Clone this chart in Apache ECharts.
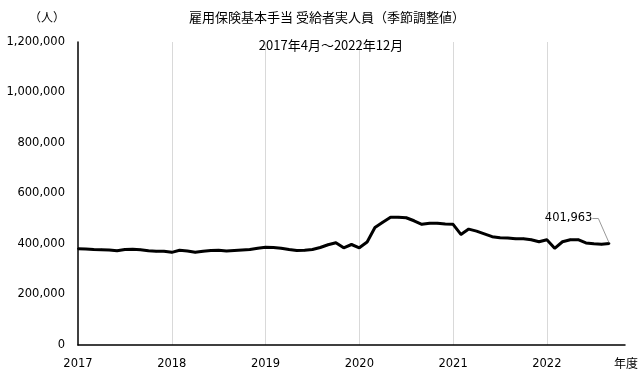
<!DOCTYPE html>
<html>
<head>
<meta charset="utf-8">
<script src="https://cdn.jsdelivr.net/npm/echarts@6/dist/echarts.min.js"></script>
<style>html,body{margin:0;padding:0;background:#fff;}#c{width:644px;height:378px;}</style>
</head>
<body>
<div id="c"></div>
<script>
// Monthly data, April 2017 – December 2022 (seasonally adjusted)
const startYear = 2017, startMonth = 4, monthCount = 69;
const fiscalYearLabels = ['2017', '2018', '2019', '2020', '2021', '2022'];
const recipients = [
  381000, 380000, 378000, 377000, 376000, 373000, 378000, 379000, 377000, 373000, 371000, 371000,
  367000, 375000, 372000, 367000, 371000, 374000, 375000, 372000, 374000, 376000, 378000, 383000,
  387000, 386000, 383000, 378000, 374000, 375000, 378000, 386000, 397000, 405000, 385000, 398000,
  385000, 408000, 465000, 486000, 506000, 506000, 504000, 492000, 478000, 482000, 482000, 479000,
  478000, 438000, 459000, 451000, 440000, 429000, 425000, 424000, 421000, 421000, 417000, 409000,
  417000, 383000, 409000, 417000, 417000, 404000, 401000, 399000, 401963
];
const yTicks = [0, 200000, 400000, 600000, 800000, 1000000, 1200000];

const months = [];
for (let i = 0; i < monthCount + 2; i++) {
  const m = (startMonth - 1 + i) % 12 + 1;
  const y = startYear + Math.floor((startMonth - 1 + i) / 12);
  months.push(y + '-' + (m < 10 ? '0' + m : m));
}

const font = '"Noto Sans CJK JP", "Noto Sans", sans-serif';
const numFont = '"DejaVu Sans", sans-serif';
const lastIdx = recipients.length - 1;
const seriesData = recipients.map((v, i) => i === lastIdx ? {
  value: v,
  label: {
    show: true, position: 'left', distance: 4,
    formatter: p => p.value.toLocaleString('en-US'),
    color: '#000', fontSize: 11.5, fontFamily: numFont
  },
  labelLine: { show: true, lineStyle: { color: '#999', width: 1 } }
} : v);

const chart = echarts.init(document.getElementById('c'), null, { renderer: 'canvas' });
chart.setOption({
  animation: false,
  backgroundColor: '#fff',
  title: [
    { text: '雇用保険基本手当 受給者実人員（季節調整値）', left: 322, top: 6, textAlign: 'center',
      textStyle: { fontSize: 13, fontWeight: 'normal', color: '#000', fontFamily: font } },
    { text: '2017年4月～2022年12月', left: 326, top: 34, textAlign: 'center',
      textStyle: { fontSize: 13, fontWeight: 'normal', color: '#000', fontFamily: font } },
    { text: '（人）', left: 24, top: 6,
      textStyle: { fontSize: 12, fontWeight: 'normal', color: '#000', fontFamily: font } },
    { text: '年度', left: 609, top: 352,
      textStyle: { fontSize: 12, fontWeight: 'normal', color: '#000', fontFamily: font } }
  ],
  grid: { left: 78, right: 19, top: 42, bottom: 33, containLabel: false },
  xAxis: {
    type: 'category',
    data: months,
    boundaryGap: false,
    axisLine: { lineStyle: { color: '#000', width: 1.5 } },
    axisTick: { show: false },
    axisLabel: {
      interval: 0,
      formatter: (val, idx) => (idx % 12 === 0 && idx / 12 < fiscalYearLabels.length) ? fiscalYearLabels[idx / 12] : '',
      color: '#000', fontSize: 11.5, fontFamily: numFont, margin: 13
    },
    splitLine: {
      show: true,
      interval: (idx) => idx % 12 === 0 && idx > 0 && idx / 12 < fiscalYearLabels.length,
      lineStyle: { color: '#d9d9d9', width: 1 }
    }
  },
  yAxis: {
    type: 'value',
    min: yTicks[0],
    max: yTicks[yTicks.length - 1],
    interval: yTicks[1] - yTicks[0],
    axisLine: { show: true, lineStyle: { color: '#000', width: 1.5 } },
    axisTick: { show: false },
    splitLine: { show: false },
    axisLabel: {
      formatter: v => v.toLocaleString('en-US'),
      color: '#000', fontSize: 11.5, fontFamily: numFont, margin: 13
    }
  },
  series: [{
    type: 'line',
    data: seriesData,
    showSymbol: true,
    symbol: 'circle',
    symbolSize: 2,
    itemStyle: { color: '#000' },
    lineStyle: { color: '#000', width: 3 },
    labelLayout: { dx: -12, dy: -25 },
    labelLine: { show: true, length2: 6, lineStyle: { color: '#999', width: 1 } }
  }]
});
</script>
</body>
</html>
